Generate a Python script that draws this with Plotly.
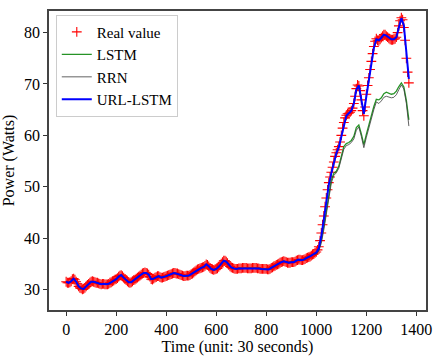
import plotly.graph_objects as go

# Time index (unit: 30 seconds)
real_time = list(range(0, 1375, 5))
model_time = list(range(0, 1380, 10))

# Measured power (Watts), one reading every 5 steps
real_value = [
    31.5, 31.3, 31.3, 31.4, 31.6, 32.0, 32.1, 31.9, 31.5, 31.1,
    30.6, 30.3, 30.2, 30.0, 30.1, 30.3, 30.6, 30.9, 31.1, 31.3,
    31.5, 31.6, 31.5, 31.4, 31.3, 31.3, 31.2, 31.1, 31.0, 31.1,
    31.1, 31.0, 31.0, 31.0, 31.1, 31.3, 31.4, 31.6, 31.7, 31.9,
    32.0, 32.2, 32.5, 32.7, 32.8, 32.6, 32.3, 32.0, 31.8, 31.6,
    31.4, 31.3, 31.4, 31.6, 31.8, 31.9, 32.1, 32.3, 32.5, 32.7,
    32.9, 33.1, 33.2, 33.3, 33.2, 33.1, 32.9, 32.5, 32.0, 31.9,
    32.1, 32.3, 32.4, 32.6, 32.6, 32.4, 32.3, 32.3, 32.4, 32.5,
    32.6, 32.7, 32.8, 32.9, 33.0, 33.1, 33.2, 33.2, 33.1, 33.1,
    33.0, 32.9, 32.8, 32.7, 32.6, 32.6, 32.7, 32.7, 32.7, 32.8,
    33.0, 33.1, 33.3, 33.5, 33.7, 33.9, 34.0, 34.1, 34.2, 34.3,
    34.4, 34.6, 34.9, 34.8, 34.5, 34.2, 34.0, 33.9, 33.8, 33.9,
    34.0, 34.1, 34.4, 34.7, 35.0, 35.3, 35.6, 35.6, 35.4, 35.1,
    34.8, 34.5, 34.3, 34.2, 34.1, 34.0, 34.0, 34.0, 34.1, 34.1,
    34.1, 34.2, 34.2, 34.2, 34.2, 34.1, 34.1, 34.1, 34.1, 34.2,
    34.2, 34.2, 34.2, 34.1, 34.1, 34.0, 34.0, 34.0, 34.0, 34.0,
    34.0, 33.9, 33.9, 34.0, 34.2, 34.3, 34.5, 34.6, 34.8, 34.9,
    35.0, 35.2, 35.3, 35.4, 35.5, 35.4, 35.3, 35.2, 35.2, 35.2,
    35.3, 35.3, 35.3, 35.4, 35.6, 35.7, 35.8, 35.8, 35.7, 35.7,
    35.8, 35.9, 36.1, 36.2, 36.3, 36.4, 36.6, 36.8, 36.9, 37.1,
    37.3, 37.7, 38.3, 39.5, 41.0, 42.6, 44.3, 46.1, 47.8, 49.4,
    50.8, 51.9, 52.8, 53.8, 54.8, 55.9, 56.6, 57.2, 57.8, 58.7,
    60.0, 61.4, 62.5, 63.4, 63.9, 64.2, 64.3, 64.5, 64.8, 65.3,
    66.2, 67.6, 69.1, 69.8, 69.6, 68.7, 66.9, 64.8, 63.8, 65.5,
    68.0, 69.7, 71.2, 72.8, 74.4, 75.9, 77.3, 78.3, 78.8, 78.5,
    78.4, 78.7, 79.0, 79.3, 79.6, 79.6, 79.3, 79.1, 78.9, 78.7,
    78.6, 78.6, 78.7, 78.8, 79.1, 80.0, 81.3, 82.3, 82.9, 82.5,
    81.0, 78.5, 75.0, 72.3, 70.2,
]

# Model predictions from t = 1000 on (every 10 steps);
# before that all models track the measurement
lstm_tail = [
    37.0, 37.8, 39.6, 42.3, 45.5, 48.7, 51.3, 52.6, 53.0, 54.0,
    56.0, 57.8, 58.4, 58.6, 59.0, 59.8, 61.5, 62.0, 60.3, 58.2,
    60.2, 62.1, 63.6, 65.6, 67.0, 66.9, 67.3, 68.1, 68.4, 68.2,
    68.0, 68.1, 68.6, 69.5, 70.2, 69.4, 66.8, 63.0,
]
rrn_tail = [
    36.9, 37.5, 39.0, 41.6, 44.8, 48.0, 50.7, 52.2, 52.7, 53.6,
    55.5, 57.3, 58.0, 58.2, 58.6, 59.3, 61.0, 61.6, 59.8, 57.6,
    59.6, 61.5, 63.0, 65.0, 66.5, 66.2, 66.7, 67.4, 67.6, 67.4,
    67.3, 67.4, 67.9, 68.9, 69.8, 69.0, 66.2, 61.8,
]
url_lstm_tail = [
    37.2, 38.0, 40.4, 43.6, 47.2, 50.4, 52.6, 54.6, 56.5, 57.7,
    59.7, 62.3, 63.8, 64.3, 64.8, 66.2, 68.9, 69.7, 67.3, 64.2,
    67.6, 70.9, 74.0, 77.0, 78.7, 78.5, 79.0, 79.6, 79.4, 79.0,
    78.7, 78.7, 79.1, 81.0, 82.8, 81.4, 75.8, 71.0,
]

head = real_value[:200:2]          # t = 0 .. 990, every 10 steps
lstm = head + lstm_tail
rrn = head + rrn_tail
url_lstm = head + url_lstm_tail

x_ticks = [0, 200, 400, 600, 800, 1000, 1200, 1400]
y_ticks = [30, 40, 50, 60, 70, 80]

FONT = "Liberation Serif, serif"

fig = go.Figure()
fig.add_trace(go.Scatter(
    x=real_time, y=real_value, mode="markers", name="Real value",
    marker=dict(symbol="cross-thin", size=7, color="red",
                line=dict(color="red", width=1.1)),
))
fig.add_trace(go.Scatter(
    x=model_time, y=lstm, mode="lines", name="LSTM",
    line=dict(color="rgba(0,128,0,0.85)", width=1.3),
))
fig.add_trace(go.Scatter(
    x=model_time, y=rrn, mode="lines", name="RRN",
    line=dict(color="rgba(60,60,60,0.8)", width=1.0),
))
fig.add_trace(go.Scatter(
    x=model_time, y=url_lstm, mode="lines", name="URL-LSTM",
    line=dict(color="rgb(0,0,255)", width=2),
))

axis_common = dict(
    showgrid=False, zeroline=False, showline=True, mirror=True,
    linecolor="#444444", linewidth=1.5,
    ticks="outside", ticklen=4, tickwidth=1, tickcolor="#333333",
    tickfont=dict(family=FONT, size=16, color="black"),
)

fig.update_layout(
    width=439, height=358,
    margin=dict(l=48, r=7, t=11, b=42),
    paper_bgcolor="white", plot_bgcolor="white",
    font=dict(family=FONT, size=16, color="black"),
    xaxis=dict(range=[-68.5, 1438.5], tickvals=x_ticks,
               title=dict(text="Time (unit: 30 seconds)", standoff=2,
                          font=dict(family=FONT, size=16)),
               **axis_common),
    yaxis=dict(range=[26.0, 84.2], tickvals=y_ticks,
               title=dict(text="Power (Watts)", standoff=6,
                          font=dict(family=FONT, size=16)),
               **axis_common),
    legend=dict(x=0.018, y=0.988, xanchor="left", yanchor="top",
                bgcolor="rgba(255,255,255,0.8)", bordercolor="#cccccc",
                borderwidth=1, font=dict(family=FONT, size=15),
                tracegroupgap=0, itemwidth=30),
    showlegend=True,
)

fig.write_html("out.html")
